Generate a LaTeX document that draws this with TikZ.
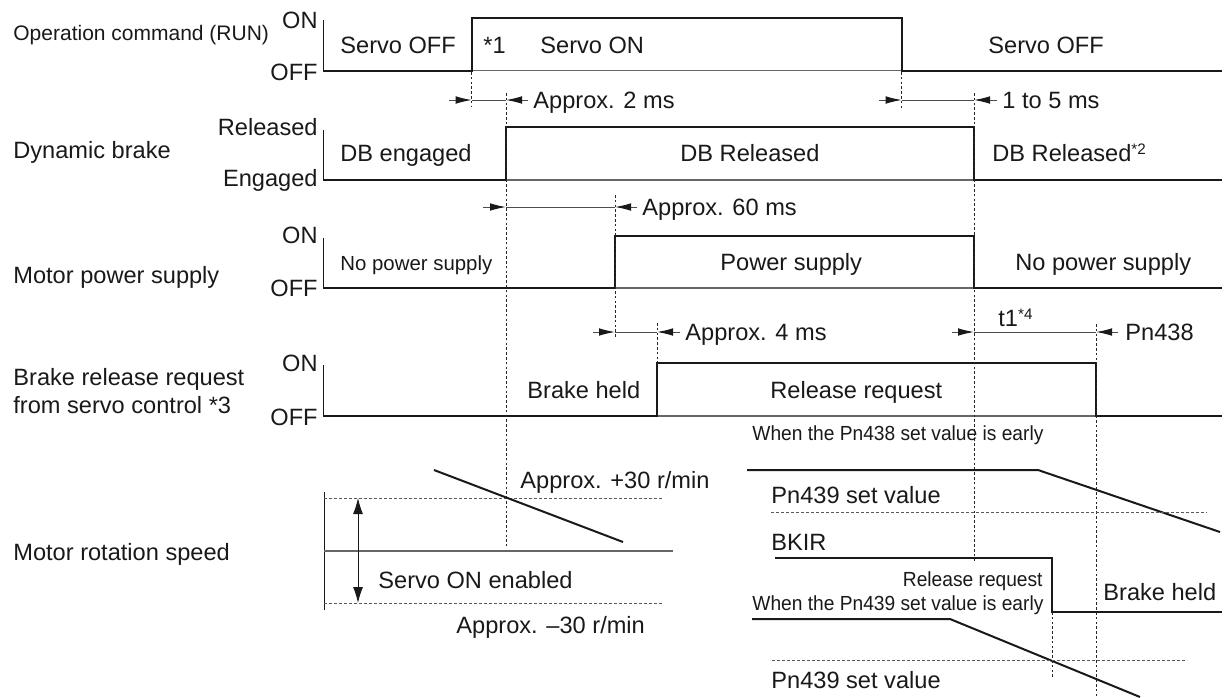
\documentclass[tikz,border=0pt]{standalone}
\usepackage{fontspec}
\setmainfont{Liberation Sans}
\newfontfamily\condfont[FakeStretch=0.94]{Liberation Sans}
\usetikzlibrary{arrows.meta}
\newcommand{\fsz}[1]{\fontsize{#1}{#1}\selectfont}
\newcommand{\supr}[1]{\raisebox{3.6pt}{\fsz{7.6}#1}}
\tikzset{
  txt/.style={inner sep=0pt, anchor=base west, font=\fsz{11.8}, text=black!90},
  txtr/.style={txt, anchor=base east},
  smalltxt/.style={txt, font=\fsz{10.2}},
  cond/.style={txt, font=\condfont\fsz{10.2}},
  condr/.style={cond, anchor=base east},
  sig/.style={line width=1pt, line join=miter, draw=black!90},
  baseln/.style={line width=0.55pt, draw=black!60},
  axis/.style={line width=0.5pt, draw=black!90},
  guide/.style={line width=0.45pt, draw=black!85, dash pattern=on 1.3pt off 1.1pt},
  hguide/.style={line width=0.5pt, draw=black!65, dash pattern=on 1.4pt off 1.1pt},
  dimln/.style={line width=0.5pt, draw=black!70},
  tip/.style={line width=0.5pt, draw=black!70, -{Latex[length=8pt,width=3.8pt,color=black!90]}},
  dbl/.style={line width=0.5pt, draw=black!90, {Latex[length=8pt,width=5pt]}-{Latex[length=8pt,width=5pt]}},
}
\begin{document}
\begin{tikzpicture}[x=0.5pt,y=-0.5pt]
\useasboundingbox (0,0) rectangle (1224,697);

% ---------- Row 1: Operation command ----------
\node[txt, font=\fsz{10.5}] (l1) at (13,40) {Operation command (RUN)};
\node[txtr] (on1) at (318,28.5) {ON};
\node[txtr] (off1) at (318,80) {OFF};
\draw[baseln] (323,70.7) -- (1222,70.7);
\draw[axis] (323,20) -- (323,70.7);
\draw[sig] (323,70.7) -- (471.7,70.7) -- (471.7,18.3) -- (901.7,18.3) -- (901.7,70.7) -- (1222,70.7);
\node[txt] (s1a) at (340,53.3) {Servo OFF};
\node[txt] (s1b) at (483,53.3) {*1};
\node[txt] (s1c) at (540,53.3) {Servo ON};
\node[txt] (s1d) at (988,53.3) {Servo OFF};

% ---------- Row 2: Dynamic brake ----------
\node[txt] (l2) at (13,158) {Dynamic brake};
\node[txtr] (on2) at (318,135) {Released};
\node[txtr] (off2) at (318,186.7) {Engaged};
\draw[baseln] (323,180) -- (1222,180);
\draw[axis] (323,130) -- (323,180);
\draw[sig] (323,180) -- (506,180) -- (506,126.7) -- (974,126.7) -- (974,180) -- (1222,180);
\node[txt] (s2a) at (340,161.7) {DB engaged};
\node[txt] (s2b) at (680,161.7) {DB Released};
\node[txt] (s2c) at (992,161.7) {DB Released\supr{*2}};

% ---------- Row 3: Motor power supply ----------
\node[txt] (l3) at (13,283) {Motor power supply};
\node[txtr] (on3) at (318,243) {ON};
\node[txtr] (off3) at (318,296.7) {OFF};
\draw[baseln] (323,288) -- (1222,288);
\draw[axis] (323,238) -- (323,288);
\draw[sig] (323,288) -- (615,288) -- (615,235.7) -- (974,235.7) -- (974,288) -- (1222,288);
\node[smalltxt] (s3a) at (340,270) {No power supply};
\node[txt] (s3b) at (720,270.7) {Power supply};
\node[txt] (s3c) at (1015,270.7) {No power supply};

% ---------- Row 4: Brake release request ----------
\node[txt] (l4a) at (13,385) {Brake release request};
\node[txt] (l4b) at (13,413) {from servo control *3};
\node[txtr] (on4) at (318,371.7) {ON};
\node[txtr] (off4) at (318,425) {OFF};
\draw[baseln] (323,416) -- (1222,416);
\draw[axis] (323,365) -- (323,416);
\draw[sig] (323,416) -- (657,416) -- (657,363) -- (1096,363) -- (1096,416) -- (1222,416);
\node[txt] (s4a) at (527,398.3) {Brake held};
\node[txt] (s4b) at (770,398.3) {Release request};

% ---------- Guides ----------
\draw[guide] (471.7,72) -- (471.7,107);
\draw[guide] (506,93) -- (506,546);
\draw[guide] (901.7,72) -- (901.7,108);
\draw[guide] (974,93) -- (974,563);
\draw[guide] (615,195) -- (615,338);
\draw[guide] (657,323) -- (657,363);
\draw[guide] (1096,324) -- (1096,697);
\draw[guide] (1052,612) -- (1052,678);

% ---------- Dimensions ----------
\coordinate (a1) at (471.7,100); \coordinate (b1) at (506,100);
\draw[tip] (449,100) -- (a1); \draw[dimln] (a1) -- (b1); \draw[tip] (528,100) -- (b1);
\node[txt] (d1) at (533,108.3) {Approx. 2 ms};

\coordinate (a2) at (901.7,100); \coordinate (b2) at (974,100);
\draw[tip] (879,100) -- (a2); \draw[dimln] (a2) -- (b2); \draw[tip] (997,100) -- (b2);
\node[txt] (d2) at (1002,108.3) {1 to 5 ms};

\coordinate (a3) at (506,207); \coordinate (b3) at (615,207);
\draw[tip] (483,207) -- (a3); \draw[dimln] (a3) -- (b3); \draw[tip] (637,207) -- (b3);
\node[txt] (d3) at (642,215.5) {Approx. 60 ms};

\coordinate (a4) at (615,332); \coordinate (b4) at (657,332);
\draw[tip] (593,332) -- (a4); \draw[dimln] (a4) -- (b4); \draw[tip] (680,332) -- (b4);
\node[txt] (d4) at (685,340.5) {Approx. 4 ms};

\coordinate (a5) at (974,332); \coordinate (b5) at (1096,332);
\draw[tip] (952,332) -- (a5); \draw[dimln] (a5) -- (b5); \draw[tip] (1118,332) -- (b5);
\node[txt] (d5) at (1125,340.5) {Pn438};
\node[txt] (t1) at (998,326.7) {t1\supr{*4}};

% ---------- Motor rotation speed ----------
\node[txt] (l5) at (13,560) {Motor rotation speed};
\draw[axis] (324,492) -- (324,610);
\draw[hguide] (324,498) -- (663,498);
\draw[hguide] (324,603) -- (663,603);
\draw[baseln] (324,551) -- (673,551);
\draw[dbl] (358,498) -- (358,603);
\draw[sig] (434,470) -- (623,542);
\node[txt] (p30) at (520,488.3) {Approx. +30 r/min};
\node[txt] (son) at (378,588.3) {Servo ON enabled};
\node[txt] (m30) at (456,633) {Approx. –30 r/min};

% ---------- Right-bottom detail ----------
\node[cond] (w1) at (752,440) {When the Pn438 set value is early};
\draw[sig] (747,470) -- (1038,470) -- (1220,532);
\node[txt] (pn1) at (771,503) {Pn439 set value};
\draw[hguide] (771,512) -- (1207,512);
\node[txt] (bk) at (771,550) {BKIR};
\draw[sig] (775,558) -- (1052,558) -- (1052,612) -- (1222,612);
\node[condr] (rr) at (1043,586.7) {Release request};
\node[cond] (w2) at (752,610) {When the Pn439 set value is early};
\node[txt] (bh) at (1103,600) {Brake held};
\draw[sig] (752,619) -- (950,619) -- (1140,697);
\draw[hguide] (772,660) -- (1187,660);
\node[txt] (pn2) at (771,688) {Pn439 set value};
\end{tikzpicture}
\end{document}
